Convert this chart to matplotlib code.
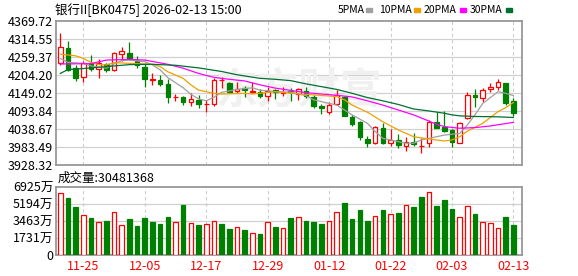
import matplotlib
matplotlib.use('Agg')
import matplotlib.pyplot as plt
from matplotlib.patches import Rectangle
import numpy as np

plt.rcParams['font.family'] = ['Noto Sans CJK SC', 'DejaVu Sans']

dates = ['11-20', '11-21', '11-24', '11-25', '11-26', '11-27', '11-28',
         '12-01', '12-02', '12-03', '12-04', '12-05', '12-08', '12-09',
         '12-10', '12-11', '12-12', '12-15', '12-16', '12-17', '12-18',
         '12-19', '12-22', '12-23', '12-24', '12-25', '12-26', '12-29',
         '12-30', '12-31', '01-05', '01-06', '01-07', '01-08', '01-09',
         '01-12', '01-13', '01-14', '01-15', '01-16', '01-19', '01-20',
         '01-21', '01-22', '01-23', '01-26', '01-27', '01-28', '01-29',
         '01-30', '02-02', '02-03', '02-04', '02-05', '02-06', '02-09',
         '02-10', '02-11', '02-12', '02-13']

opens = [4240, 4286, 4227, 4199, 4240, 4222, 4237, 4218, 4268, 4272,
         4248, 4230, 4190, 4189, 4177, 4137, 4138, 4120, 4128, 4114,
         4115, 4188, 4179, 4154, 4163, 4153, 4153, 4140, 4157, 4148,
         4154, 4147, 4155, 4138, 4110, 4092, 4114, 4138, 4074, 4061,
         4008, 3997, 4041, 3996, 4006, 3988, 3999, 3986, 3995, 4059,
         4046, 4036, 3997, 4071, 4143, 4133, 4160, 4168, 4179, 4123]
highs = [4333, 4308, 4234, 4248, 4264, 4252, 4240, 4275, 4290, 4306,
         4262, 4241, 4209, 4204, 4192, 4146, 4140, 4148, 4143, 4128,
         4196, 4199, 4182, 4184, 4170, 4182, 4161, 4168, 4160, 4168,
         4163, 4165, 4168, 4143, 4114, 4120, 4159, 4141, 4082, 4064,
         4018, 4048, 4056, 4039, 4023, 4015, 4025, 4010, 4066, 4090,
         4094, 4039, 4061, 4153, 4161, 4165, 4179, 4191, 4180, 4133]
lows = [4235, 4217, 4187, 4182, 4215, 4194, 4212, 4215, 4248, 4250,
        4227, 4167, 4174, 4172, 4117, 4125, 4112, 4110, 4102, 4092,
        4110, 4163, 4148, 4148, 4138, 4148, 4135, 4125, 4131, 4141,
        4125, 4128, 4135, 4104, 4084, 4084, 4112, 4078, 4048, 4005,
        3983, 3992, 3993, 3988, 3981, 3971, 3987, 3966, 3982, 4041,
        4028, 3985, 3995, 4069, 4107, 4120, 4151, 4158, 4112, 4080]
closes = [4289, 4220, 4196, 4242, 4224, 4240, 4219, 4271, 4277, 4254,
          4234, 4191, 4191, 4176, 4136, 4138, 4120, 4131, 4114, 4115,
          4189, 4189, 4153, 4160, 4157, 4156, 4140, 4156, 4153, 4153,
          4152, 4160, 4141, 4109, 4102, 4112, 4143, 4080, 4054, 4015,
          3996, 4045, 3995, 4005, 3990, 4000, 3992, 3987, 4061, 4043,
          4033, 4000, 4056, 4143, 4138, 4157, 4167, 4182, 4119, 4087]

# volume in 万
volumes = [6283, 5776, 4864, 4121, 3750, 3310, 3446, 4425, 3006, 3648,
           2939, 3750, 3344, 3142, 3851, 3310, 5067, 3209, 3040, 3108,
           3412, 3142, 2635, 2804, 2534, 2196, 2128, 3310, 2838, 2702,
           3750, 3918, 3446, 3344, 3142, 3513, 4425, 5270, 3648, 4560,
           3446, 4020, 4560, 4223, 4256, 5135, 4864, 5878, 6452, 4966,
           5574, 4662, 3918, 5033, 4155, 3310, 3209, 2702, 3851, 3048]
vol_up = [1, 0, 0, 1, 0, 1, 0, 1, 1, 0, 0, 0, 0, 0, 0, 1, 0, 1, 0, 1,
          1, 0, 0, 1, 0, 1, 0, 1, 0, 1, 0, 1, 0, 0, 0, 1, 1, 0, 0, 0,
          0, 1, 0, 1, 0, 1, 0, 0, 1, 0, 0, 0, 1, 1, 0, 1, 1, 1, 0, 0]

# moving averages (bar index, value)
ma5_idx = [0, 1, 3, 4, 6, 7, 8, 9, 11, 12, 13, 14, 16, 17, 18, 19, 20, 21,
           23, 25, 26, 28, 30, 32, 33, 35, 36, 37, 38, 40, 41, 42, 44, 45,
           46, 47, 48, 49, 50, 52, 53, 54, 55, 57, 58, 59]
ma5 = [4255, 4243, 4240, 4232, 4225, 4238, 4248, 4250, 4245, 4235, 4220,
       4196, 4165, 4145, 4131, 4125, 4136, 4151, 4160, 4165, 4158, 4153,
       4152, 4141, 4128, 4117, 4112, 4097, 4082, 4056, 4031, 4010, 4000,
       3995, 3995, 4005, 4010, 4015, 4020, 4025, 4051, 4082, 4117, 4153,
       4148, 4141]
ma10_idx = [0, 2, 3, 4, 5, 6, 7, 9, 11, 12, 13, 14, 16, 17, 18, 20, 21, 24,
            25, 28, 30, 32, 36, 37, 38, 40, 42, 44, 46, 48, 50, 51, 52, 53,
            55, 57, 58, 59]
ma10 = [4268, 4263, 4255, 4243, 4236, 4235, 4242, 4240, 4238, 4237, 4230,
        4214, 4194, 4174, 4158, 4148, 4146, 4148, 4146, 4153, 4148, 4145,
        4138, 4128, 4112, 4090, 4061, 4036, 4015, 4008, 4002, 4005, 4015,
        4032, 4056, 4092, 4104, 4120]
ma20_idx = [0, 4, 6, 9, 11, 14, 16, 18, 20, 22, 24, 26, 28, 30, 32, 34, 36,
            38, 40, 42, 44, 46, 48, 49, 50, 52, 54, 56, 59]
ma20 = [4238, 4239, 4250, 4252, 4250, 4237, 4225, 4209, 4197, 4191, 4186,
        4174, 4164, 4157, 4150, 4146, 4142, 4137, 4125, 4112, 4097, 4082,
        4063, 4053, 4046, 4041, 4043, 4048, 4059]
ma30_idx = [0, 1, 3, 6, 9, 12, 15, 18, 21, 23, 26, 28, 30, 32, 36, 38, 40,
            42, 44, 46, 48, 50, 51, 52, 54, 57, 59]
ma30 = [4209, 4221, 4224, 4230, 4236, 4237, 4234, 4226, 4215, 4205, 4194,
        4191, 4187, 4177, 4160, 4148, 4135, 4125, 4114, 4100, 4094, 4087,
        4082, 4079, 4077, 4076, 4074]

price_ticks = [3928.32, 3983.49, 4038.67, 4093.84, 4149.02, 4204.20,
               4259.37, 4314.55, 4369.72]
vol_ticks = [0, 1731, 3463, 5194, 6925]
label_idx = [3, 11, 19, 27, 35, 43, 51, 59]

RED = '#ff0000'
GREEN = '#008000'
ma_colors = ['#a0a0a0', '#f0a000', '#ff00ff', '#007030']

W, H = 578, 276
fig = plt.figure(figsize=(W / 100, H / 100), dpi=100)
left, right = 56, 522
ax = fig.add_axes([left / W, 1 - 165 / H, (right - left) / W, 144 / H])
axv = fig.add_axes([left / W, 1 - 255 / H, (right - left) / W, 68 / H])

n = len(dates)
x = np.arange(n)
step = 7.68
xlim = (-(60.3 - left) / step, (n - 1) + (right - 513.4) / step)

for a in (ax, axv):
    a.set_xlim(*xlim)
    for s in a.spines.values():
        s.set_color('#999999')
        s.set_linewidth(1.3)
    a.tick_params(length=0)
    for i in label_idx:
        a.axvline(i, color='#cccccc', lw=0.8, dashes=(3, 2.5), zorder=0)
    a.set_xticks([])

# main price panel
ax.set_ylim(price_ticks[0], price_ticks[-1])
ax.set_yticks(price_ticks)
ax.set_yticklabels(['%.2f' % v for v in price_ticks], fontsize=9)
ax.tick_params(axis='y', pad=2)
for v in price_ticks[1:-1]:
    ax.axhline(v, color='#d0d0d0', lw=0.9, zorder=0)

ax.text(0.52, 0.52, '东方财富', transform=ax.transAxes, fontsize=30,
        color='#f0f0f0', ha='center', va='center', zorder=0.5,
        fontweight='bold', style='italic')

o = np.array(opens, float)
c = np.array(closes, float)
up = c >= o
ax.vlines(x, lows, highs, colors=[RED if u else GREEN for u in up],
          lw=0.9, zorder=2)
body_bottom = np.minimum(o, c)
body_h = np.maximum(np.abs(c - o), 0.01)
ax.bar(x[up], body_h[up], 0.6, bottom=body_bottom[up], facecolor='white',
       edgecolor=RED, linewidth=0.9, zorder=3)
ax.bar(x[~up], body_h[~up], 0.6, bottom=body_bottom[~up], facecolor=GREEN,
       edgecolor=GREEN, linewidth=0.9, zorder=3)

for idx, vals, col in zip([ma5_idx, ma10_idx, ma20_idx, ma30_idx],
                          [ma5, ma10, ma20, ma30], ma_colors):
    ax.plot(idx, vals, color=col, lw=0.9, zorder=4)

# volume panel
vu = np.array(vol_up, bool)
vol = np.array(volumes, float)
axv.set_ylim(0, 6925)
axv.set_yticks(vol_ticks)
axv.set_yticklabels([('%d万' % v) if v else '0' for v in vol_ticks],
                    fontsize=9)
axv.tick_params(axis='y', pad=2)
for v in vol_ticks[1:-1]:
    axv.axhline(v, color='#d0d0d0', lw=0.9, zorder=0)
axv.bar(x[vu], vol[vu], 0.6, facecolor='white', edgecolor=RED,
        linewidth=0.9, zorder=3)
axv.bar(x[~vu], vol[~vu], 0.6, facecolor=GREEN, edgecolor=GREEN,
        linewidth=0.9, zorder=3)
for i in label_idx:
    axv.text(i, -0.08, dates[i], transform=axv.get_xaxis_transform(),
             ha='center', va='top', fontsize=9, color=RED)

# header
fig.text(55 / W, 1 - 10 / H, '银行II[BK0475] 2026-02-13 15:00', fontsize=9,
         va='center', ha='left')
legend_items = [('5PMA', 338, 366), ('10PMA', 379, 414),
                ('20PMA', 424, 460), ('30PMA', 470, 506)]
for (name, tx, sx), col in zip(legend_items, ma_colors):
    fig.text(tx / W, 1 - 10 / H, name, fontsize=7.5, va='center', ha='left')
    fig.patches.append(Rectangle((sx / W, 1 - 12 / H), 6 / W, 4 / H,
                                 transform=fig.transFigure, color=col))
fig.text(58 / W, 1 - 178 / H, '成交量:30481368', fontsize=9,
         va='center', ha='left')

plt.savefig('out.png', dpi=100)
plt.close()
